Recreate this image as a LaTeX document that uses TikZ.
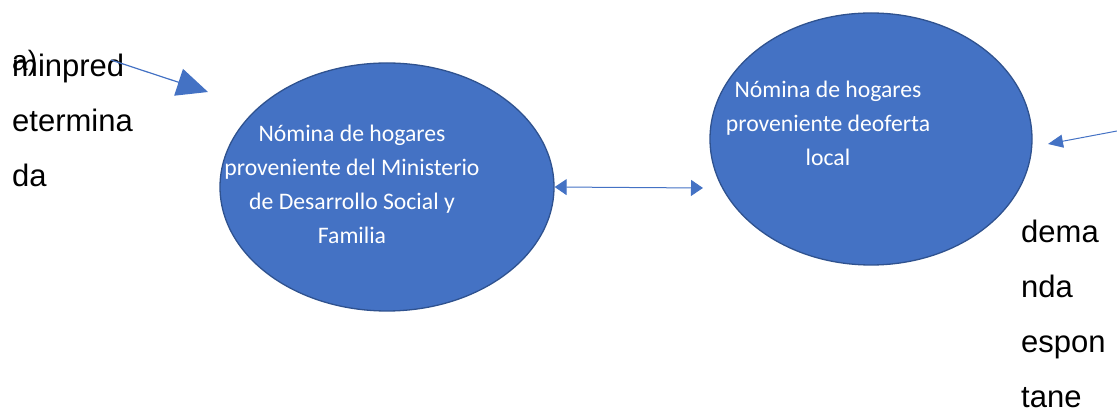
\documentclass[tikz,border=0pt]{standalone}
\usepackage{fontspec}
\setmainfont{Liberation Sans}
\newfontfamily\calfont{Carlito}
\usetikzlibrary{arrows.meta,shapes.geometric}
\definecolor{accent}{HTML}{4472C4}
\definecolor{accentdark}{HTML}{2F528F}
\begin{document}
\begin{tikzpicture}[x=1pt,y=-1pt,
  bubble/.style={ellipse, draw=accentdark, line width=1.3pt, fill=accent, inner sep=0pt},
  bubbletext/.style={font=\calfont\fontsize{23.7}{34}\selectfont, text=white, align=center, inner sep=0pt},
  sidetext/.style={font=\fontsize{31}{55}\selectfont, align=left, inner sep=0pt, anchor=base west},
  link/.style={draw=accent, line width=1.2pt}]
\useasboundingbox (0,0) rectangle (1117,411);
\node[bubble, minimum width=334pt, minimum height=248pt] (mds) at (387,187) {};
\node[bubble, minimum width=322pt, minimum height=252pt] (ofl) at (871,139) {};
\node[bubbletext] (mdst) at (352,184) {Nómina de hogares\\proveniente del Ministerio\\de Desarrollo Social y\\Familia};
\node[bubbletext] (oflt) at (828,123) {Nómina de hogares\\proveniente deoferta\\local};
\node[sidetext] (lt) at (12,187) {minpred\\etermina\\da};
\node[font=\fontsize{28}{34}\selectfont, inner sep=0pt, anchor=base west] (al) at (12,71) {a)};
\node[sidetext] (rt) at (1021,408) {dema\\nda\\espon\\tane};
\coordinate (a1s) at (111,60);
\coordinate (a1e) at (208,92);
\coordinate (d2) at (703,188);
\coordinate (r1) at (1117,131);
\coordinate (r2) at (1048,144);
\draw[link, -{Triangle[length=31pt,width=28pt]}] (a1s) -- (a1e);
\draw[link, line width=1pt, {Triangle[length=12pt,width=16pt]}-{Triangle[length=12pt,width=16pt]}] (mds.east) -- (d2);
\draw[link, line width=1pt, -{Triangle[length=15pt,width=13pt]}] (r1) -- (r2);
\end{tikzpicture}
\end{document}
